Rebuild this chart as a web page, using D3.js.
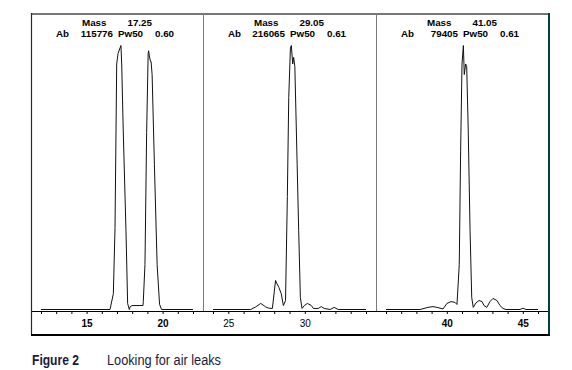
<!DOCTYPE html>
<html><head><meta charset="utf-8">
<script src="https://cdn.jsdelivr.net/npm/d3@7"></script>
<style>
body{margin:0;background:#fff;}
svg{display:block;}
.hdr{font-family:"Liberation Sans",Arial,sans-serif;font-weight:bold;font-size:9.8px;fill:#000;}
.tick text{font-family:"Liberation Sans",Arial,sans-serif;font-size:10px;fill:#000;}
</style>
</head><body>
<svg id="c" width="572" height="370"></svg>
<script>
// ---- data ----
const masses = ["17.25", "29.05", "41.05"];
const abundances = ["115776", "216065", "79405"];
const pw50 = ["0.60", "0.61", "0.61"];
const domains = [[12, 22], [24, 34], [36, 46]];
const tickLabels = [[15, 20], [25, 30], [40, 45]];
const boldLabels = [15, 20, 40, 45];

const p1x = [12, 16.54, 16.76, 16.87, 16.98, 17.07, 17.26, 17.31, 17.41, 17.59, 17.70, 17.81, 17.86, 17.99, 18.71, 18.73, 18.84, 18.95, 19.05, 19.08, 19.13, 19.20, 19.24, 19.31, 19.46, 19.64, 19.80, 19.93, 22];
const p1y = [0, 0, 6, 31, 93, 97, 100, 93, 68, 30, 2.3, 0, 1, 1.5, 1.5, 3, 17, 67, 97, 98, 96, 94, 94, 89, 55, 17, 2, 0, 0];
const p2x = [24, 26.47, 26.79, 27.12, 27.44, 27.64, 27.88, 28.09, 28.16, 28.31, 28.46, 28.60, 28.74, 28.86, 28.95, 29.06, 29.12, 29.21, 29.27, 29.35, 29.50, 29.60, 29.71, 29.82, 29.97, 30.17, 30.43, 30.56, 30.88, 31.08, 31.27, 31.66, 31.92, 32.18, 34];
const p2y = [0, 0, 1, 2.3, 1, 0.5, 0.4, 11, 10, 8.3, 6, 1.5, 3.4, 42.8, 80.3, 99, 100, 93, 95.5, 92, 55, 30, 4.5, 0.4, 1.5, 2.3, 1.5, 0.4, 0.4, 1.1, 0.4, 0, 0.8, 0, 0];
const p3x = [36, 38.24, 38.76, 39.09, 39.36, 39.75, 40.01, 40.28, 40.54, 40.67, 40.82, 40.91, 41.0, 41.09, 41.15, 41.24, 41.31, 41.41, 41.53, 41.64, 41.74, 41.92, 42.12, 42.32, 42.45, 42.63, 42.84, 43.04, 43.30, 43.50, 43.70, 43.89, 44.82, 45.01, 45.21, 46];
const p3y = [0, 0, 0.8, 1.1, 0.8, 0.2, 2.3, 3, 2.7, 1.9, 17, 60, 93, 100, 89, 93, 92, 68, 30, 4.5, 0.8, 2.5, 3.4, 3.0, 1.5, 0.8, 3.0, 4.2, 3.4, 1.5, 0.4, 0, 0, 0.5, 0, 0];
const seriesX = [p1x, p2x, p3x];
const seriesY = [p1y, p2y, p3y];

// ---- layout ----
const svg = d3.select("#c");
const frameL = 31, frameR = 548, frameT = 14, axisY = 311, frameB = 335;
const panelEdges = [31, 203, 376, 548];
const pad = 10;

const y = d3.scaleLinear().domain([0, 100]).range([309.5, 45.5]);

// panel dividers
[1, 2].forEach(i => {
  svg.append("line").attr("x1", panelEdges[i] + 0.5).attr("x2", panelEdges[i] + 0.5)
    .attr("y1", frameT).attr("y2", axisY).attr("stroke", "#7a7a7a").attr("stroke-width", 1);
});

for (let i = 0; i < 3; i++) {
  const x = d3.scaleLinear().domain(domains[i]).range([panelEdges[i] + pad, panelEdges[i + 1] - pad]);
  const pts = seriesX[i].map((v, j) => [v, seriesY[i][j]]);
  svg.append("path").datum(pts)
    .attr("d", d3.line().x(d => x(d[0])).y(d => y(d[1])))
    .attr("fill", "none").attr("stroke", "#111").attr("stroke-width", 1);

  const ticks = d3.range(domains[i][0], domains[i][1] + 1);
  const ax = d3.axisBottom(x).tickValues(ticks).tickSize(3).tickPadding(6)
    .tickFormat(d => tickLabels[i].includes(d) ? String(d) : "");
  const g = svg.append("g").attr("transform", `translate(0,${axisY})`).call(ax);
  g.select(".domain").remove();
  g.selectAll(".tick line").attr("stroke", "#000");
  g.selectAll(".tick text").attr("font-weight", d => boldLabels.includes(d) ? "bold" : "normal");

  // header
  const L = panelEdges[i];
  svg.append("text").attr("class", "hdr").attr("x", L + 51).attr("y", 26).text("Mass");
  svg.append("text").attr("class", "hdr").attr("x", L + 121).attr("y", 26).attr("text-anchor", "end").text(masses[i]);
  svg.append("text").attr("class", "hdr").attr("x", L + 25).attr("y", 37).text("Ab");
  svg.append("text").attr("class", "hdr").attr("x", L + 82).attr("y", 37).attr("text-anchor", "end").text(abundances[i]);
  svg.append("text").attr("class", "hdr").attr("x", L + 87).attr("y", 37).text("Pw50");
  svg.append("text").attr("class", "hdr").attr("x", L + 124).attr("y", 37).text(pw50[i]);
}

// axis line
svg.append("line").attr("x1", frameL).attr("x2", frameR).attr("y1", axisY + 0.5).attr("y2", axisY + 0.5)
  .attr("stroke", "#000").attr("stroke-width", 1);

// frame
svg.append("line").attr("x1", frameL).attr("x2", frameR + 1).attr("y1", frameT).attr("y2", frameT)
  .attr("stroke", "#777").attr("stroke-width", 2);
svg.append("line").attr("x1", frameL + 0.5).attr("x2", frameL + 0.5).attr("y1", frameT - 1).attr("y2", frameB)
  .attr("stroke", "#0b3535").attr("stroke-width", 1.2);
svg.append("line").attr("x1", frameR + 1).attr("x2", frameR + 1).attr("y1", frameT - 1).attr("y2", frameB)
  .attr("stroke", "#004040").attr("stroke-width", 2);
svg.append("line").attr("x1", frameL).attr("x2", frameR + 2).attr("y1", frameB).attr("y2", frameB)
  .attr("stroke", "#000").attr("stroke-width", 2);

// caption
const cap = "'Liberation Sans Narrow','Arial Narrow','Liberation Sans',sans-serif";
svg.append("text").attr("x", 32).attr("y", 365).attr("font-family", cap).attr("font-weight", "bold")
  .attr("font-size", 14).attr("fill", "#1a1a3c")
  .attr("textLength", 47).attr("lengthAdjust", "spacingAndGlyphs").text("Figure 2");
svg.append("text").attr("x", 107).attr("y", 365).attr("font-family", cap)
  .attr("font-size", 14).attr("fill", "#1a1a3c")
  .attr("textLength", 114).attr("lengthAdjust", "spacingAndGlyphs").text("Looking for air leaks");
</script>
</body></html>
